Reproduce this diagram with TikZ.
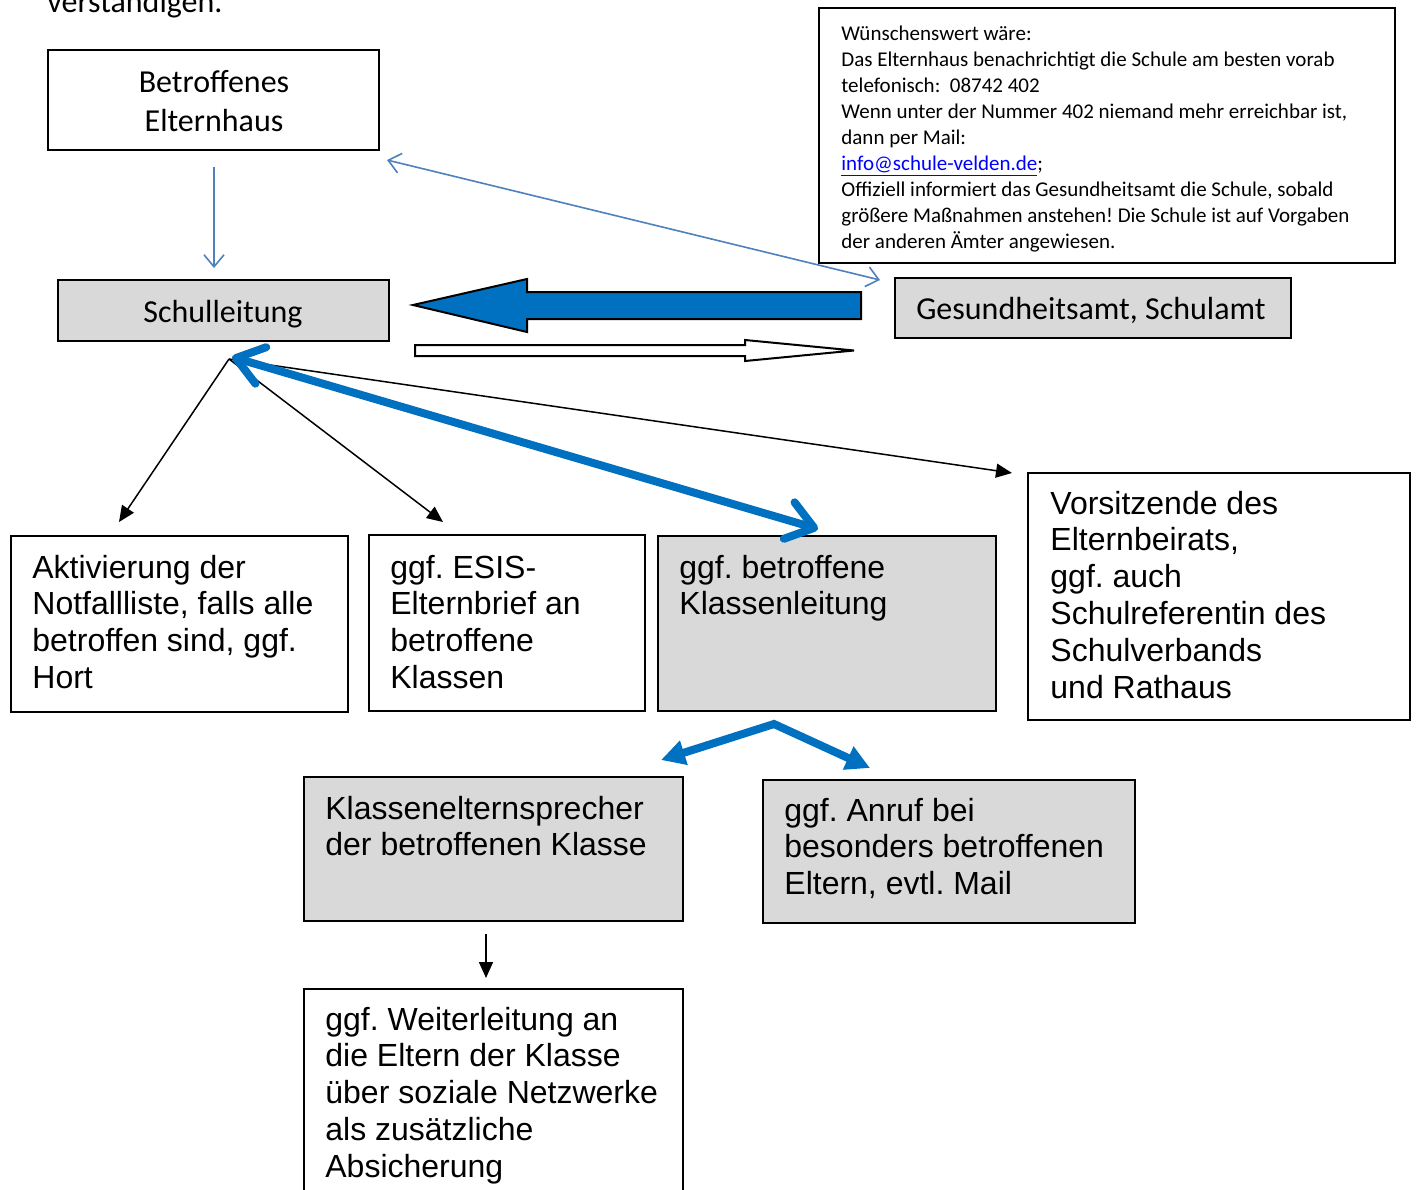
\documentclass[tikz,border=0pt]{standalone}
\usepackage{fontspec}
\setmainfont{Carlito}
\newfontfamily\arialf{Liberation Sans}
\usetikzlibrary{arrows.meta,fit}
\definecolor{thinblue}{HTML}{4F81BD}
\definecolor{thickblue}{HTML}{0070C0}
\definecolor{boxgray}{HTML}{D9D9D9}
\definecolor{linkblue}{HTML}{0000FF}
\frenchspacing
\newcommand\mylines[1]{\parbox[t]{330pt}{\raggedright #1}}
\newcommand\myclines[1]{\parbox[t]{200pt}{\centering #1}}
\begin{document}
\begin{tikzpicture}[x=0.5pt,y=-0.5pt,
  box/.style={draw=black,line width=1pt,inner sep=0pt,fill=white},
  graybox/.style={box,fill=boxgray},
  txt/.style={inner sep=0pt,anchor=base west},
  ctxt/.style={inner sep=0pt,anchor=base},
  cal/.style={font=\fontsize{16}{19.5}\selectfont},
  small/.style={font=\fontsize{10.5}{13}\selectfont},
  ari/.style={font=\arialf\fontsize{16}{18.4}\selectfont},
  thinarr/.style={draw=thinblue,line width=0.8pt},
  thinhead/.style={{Straight Barb[length=6pt,width=10pt]}-{Straight Barb[length=6pt,width=10pt]}},
  blackarr/.style={draw=black,line width=0.75pt,-{Triangle[length=8pt,width=7pt]}},
  thickarr/.style={draw=thickblue,line width=4pt},
  blockarr/.style={draw=black,line width=1pt}
]
\useasboundingbox (0,0) rectangle (1418,1189);
\clip (0,0) rectangle (1418,1189);
\fill[white] (0,0) rectangle (1418,1189);

% heading remainder
\node[txt,cal] (head) at (47,12) {verständigen.};

% top boxes
\node[box,fit={(48,50)(379,150)}] (elt) {};
\node[ctxt,cal] (eltT) at (214,92) {\myclines{Betroffenes\\Elternhaus}};

\node[graybox,fit={(58,280)(389,341)}] (sl) {};
\node[ctxt,cal] (slT) at (223,322) {Schulleitung};

\node[box,fit={(819,8)(1395,263)}] (info) {};
\node[txt,small] (infoT) at (841,40) {\mylines{Wünschenswert wäre:\\
Das Elternhaus benachrichtigt die Schule am besten vorab\\
telefonisch:~~08742 402\\
Wenn unter der Nummer 402 niemand mehr erreichbar ist,\\
dann per Mail:\\
\textcolor{linkblue}{\underline{info@schule-velden.de}};\\
Offiziell informiert das Gesundheitsamt die Schule, sobald\\
größere Maßnahmen anstehen! Die Schule ist auf Vorgaben\\
der anderen Ämter angewiesen.}};

\node[graybox,fit={(895,278)(1291,338)}] (ga) {};
\node[ctxt,cal] (gaT) at (1091,319) {Gesundheitsamt, Schulamt};

% middle boxes
\node[box,fit={(11,536)(348,712)}] (akt) {};
\node[txt,ari] (aktT) at (32,578) {\mylines{Aktivierung der\\Notfallliste, falls alle\\betroffen sind, ggf.\\Hort}};

\node[box,fit={(369,535)(645,711)}] (esis) {};
\node[txt,ari] (esisT) at (390,578) {\mylines{ggf. ESIS-\\Elternbrief an\\betroffene\\Klassen}};

\node[graybox,fit={(658,536)(996,711)}] (kl) {};
\node[txt,ari] (klT) at (679,578) {\mylines{ggf. betroffene\\Klassenleitung}};

\node[box,fit={(1028,473)(1410,720)}] (vors) {};
\node[txt,ari] (vorsT) at (1050,514) {\mylines{Vorsitzende des\\Elternbeirats,\\ggf. auch\\Schulreferentin des\\Schulverbands\\und Rathaus}};

% lower boxes
\node[graybox,fit={(304,777)(683,921)}] (kes) {};
\node[txt,ari] (kesT) at (325,819) {\mylines{Klassenelternsprecher\\der betroffenen Klasse}};

\node[graybox,fit={(763,780)(1135,923)}] (anr) {};
\node[txt,ari] (anrT) at (784,821) {\mylines{ggf. Anruf bei\\besonders betroffenen\\Eltern, evtl. Mail}};

\node[box,fit={(304,989)(683,1210)}] (weit) {};
\node[txt,ari] (weitT) at (325,1030) {\mylines{ggf. Weiterleitung an\\die Eltern der Klasse\\über soziale Netzwerke\\als zusätzliche\\Absicherung}};

% connector end points
\coordinate (eltOut) at (214,167);
\coordinate (slIn) at (214,268);
\coordinate (eltSide) at (387,160);
\coordinate (gaCorner) at (880,280);
\coordinate (apex) at (229,359);
\coordinate (aktIn) at (119,522);
\coordinate (esisIn) at (443,522);
\coordinate (vorsIn) at (1012,473);
\coordinate (slBlue) at (232,357);
\coordinate (klIn) at (818,529);
\coordinate (klOut) at (774,724);
\coordinate (kesIn) at (661,760);
\coordinate (anrIn) at (870,768);
\coordinate (kesOut) at (486,934);
\coordinate (weitIn) at (486,978);

% thin blue arrows
\draw[thinarr,-{Straight Barb[length=6pt,width=10pt]}] (eltOut) -- (slIn);
\draw[thinarr,thinhead] (eltSide) -- (gaCorner);

% block arrows
\draw[blockarr,fill=thickblue] (861,292) -- (527,292) -- (527,279) -- (413,305) -- (527,332) -- (527,319) -- (861,319) -- cycle;
\draw[blockarr,fill=white] (415,345) -- (745,345) -- (745,340) -- (854,350.5) -- (745,361) -- (745,356) -- (415,356) -- cycle;

% black arrows
\draw[blackarr] (apex) -- (aktIn);
\draw[blackarr] (apex) -- (esisIn);
\draw[blackarr] (apex) -- (vorsIn);
\draw[blackarr] (kesOut) -- (weitIn);

% thick blue arrows
\draw[thickarr,line cap=round,{Straight Barb[length=13pt,width=19pt,round]}-{Straight Barb[length=13pt,width=19pt,round]}] (slBlue) -- (klIn);
\draw[thickarr,line join=miter,{Triangle[length=12pt,width=12pt]}-{Triangle[length=12pt,width=12pt]}] (kesIn) -- (klOut) -- (anrIn);
\end{tikzpicture}
\end{document}
